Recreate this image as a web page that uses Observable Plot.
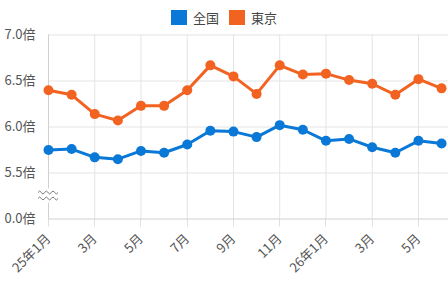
<!DOCTYPE html>
<html><head><meta charset="utf-8">
<script src="https://cdn.jsdelivr.net/npm/d3@7"></script>
<script src="https://cdn.jsdelivr.net/npm/@observablehq/plot@0.6"></script>
<style>
body{margin:0;background:#fff;font-family:"Noto Sans CJK JP","Noto Sans",sans-serif;}
#legend{height:20px;display:flex;justify-content:center;align-items:flex-start;font-size:13px;color:#444;padding-top:10px;box-sizing:border-box;overflow:visible;position:relative;z-index:1;}
.item{display:flex;align-items:center;margin:0 5px;height:15px;}
.sw{width:16px;height:15px;margin-right:6px;}
#chart svg{background:transparent;}
</style></head>
<body>
<div id="legend"></div>
<div id="chart"></div>
<script>
const seriesNames = ["全国", "東京"];
const seriesColors = ["#0a78d7", "#f26322"];
const months = ["25年1月","2月","3月","4月","5月","6月","7月","8月","9月","10月","11月","12月","26年1月","2月","3月","4月","5月","6月"];
const zenkoku = [5.75,5.76,5.67,5.65,5.74,5.72,5.81,5.96,5.95,5.89,6.02,5.97,5.85,5.87,5.78,5.72,5.85,5.82];
const tokyo   = [6.40,6.35,6.14,6.07,6.23,6.23,6.40,6.67,6.55,6.36,6.67,6.57,6.58,6.51,6.47,6.35,6.52,6.42];
const xTickIdx = [0,2,4,6,8,10,12,14,16];
const xTickLabels = ["25年1月","3月","5月","7月","9月","11月","26年1月","3月","5月"];
const yTicks = [5.0,5.5,6.0,6.5,7.0];
const yTickLabels = ["0.0倍","5.5倍","6.0倍","6.5倍","7.0倍"];

const leg = document.getElementById("legend");
seriesNames.forEach((n,i)=>{
  const it=document.createElement("div");it.className="item";
  const sw=document.createElement("div");sw.className="sw";sw.style.background=seriesColors[i];
  const t=document.createElement("span");t.textContent=n;
  it.appendChild(sw);it.appendChild(t);leg.appendChild(it);
});

const rows = [];
months.forEach((m,i)=>{
  rows.push({i, s:seriesNames[0], v:zenkoku[i]});
  rows.push({i, s:seriesNames[1], v:tokyo[i]});
});

const chart = Plot.plot({
  width:448, height:263,
  marginLeft:48, marginRight:0, marginTop:14.5, marginBottom:64.5,
  style:{fontFamily:'"Noto Sans CJK JP","Noto Sans",sans-serif', fontSize:"13px", color:"#555", background:"transparent"},
  x:{type:"linear", domain:[0,17.3], axis:null},
  y:{domain:[5,7], axis:null},
  color:{domain:seriesNames, range:seriesColors},
  marks:[
    Plot.ruleY(yTicks.slice(1), {stroke:"#e4e4e4", strokeWidth:1}),
    Plot.ruleX(xTickIdx.slice(1), {y1:5, y2:7, stroke:"#e4e4e4", strokeWidth:1}),
    Plot.ruleX([0], {y1:5, y2:7, stroke:"#d0d0d0", strokeWidth:1}),
    Plot.ruleY([5], {stroke:"#d0d0d0", strokeWidth:1}),
    Plot.text(xTickIdx, {x:d=>d, frameAnchor:"bottom", text:d=>xTickLabels[xTickIdx.indexOf(d)], rotate:-45, textAnchor:"end", lineAnchor:"middle", dy:17.5, dx:0, fill:"#555", fontSize:13}),
    Plot.axisY(yTicks, {tickFormat:d=>yTickLabels[yTicks.indexOf(d)], tickSize:0, tickPadding:13, fill:"#555", fontSize:13, label:null}),
    Plot.line(rows, {x:"i", y:"v", stroke:"s", z:"s", strokeWidth:3}),
    Plot.dot(rows, {x:"i", y:"v", fill:"s", r:5})
  ]
});
document.getElementById("chart").appendChild(chart);

const sx = chart.scale("x"), sy = chart.scale("y");
const svg = d3.select(chart);
const base = sy.apply(5);
const tg = svg.insert("g", ":first-child");
xTickIdx.forEach(d=>{
  const x = Math.round(sx.apply(d))+0.5;
  tg.append("line").attr("x1",x).attr("x2",x).attr("y1",base).attr("y2",base+8).attr("stroke","#e0e0e0");
});

// axis break symbol
const bx = sx.apply(0), by = sy.apply(5.25);
const g = svg.append("g");
g.append("rect").attr("x",bx-11).attr("y",by-7).attr("width",22).attr("height",14).attr("fill","#fff");
[-3,3].forEach(o=>{
  const y=by+o, x0=bx-10;
  g.append("path")
   .attr("d",`M${x0},${y} Q${x0+1.67},${y-3} ${x0+3.33},${y} T${x0+6.67},${y} T${x0+10},${y} T${x0+13.33},${y} T${x0+16.67},${y} T${x0+20},${y}`)
   .attr("fill","none").attr("stroke","#777").attr("stroke-width",1);
});
</script>
</body></html>
